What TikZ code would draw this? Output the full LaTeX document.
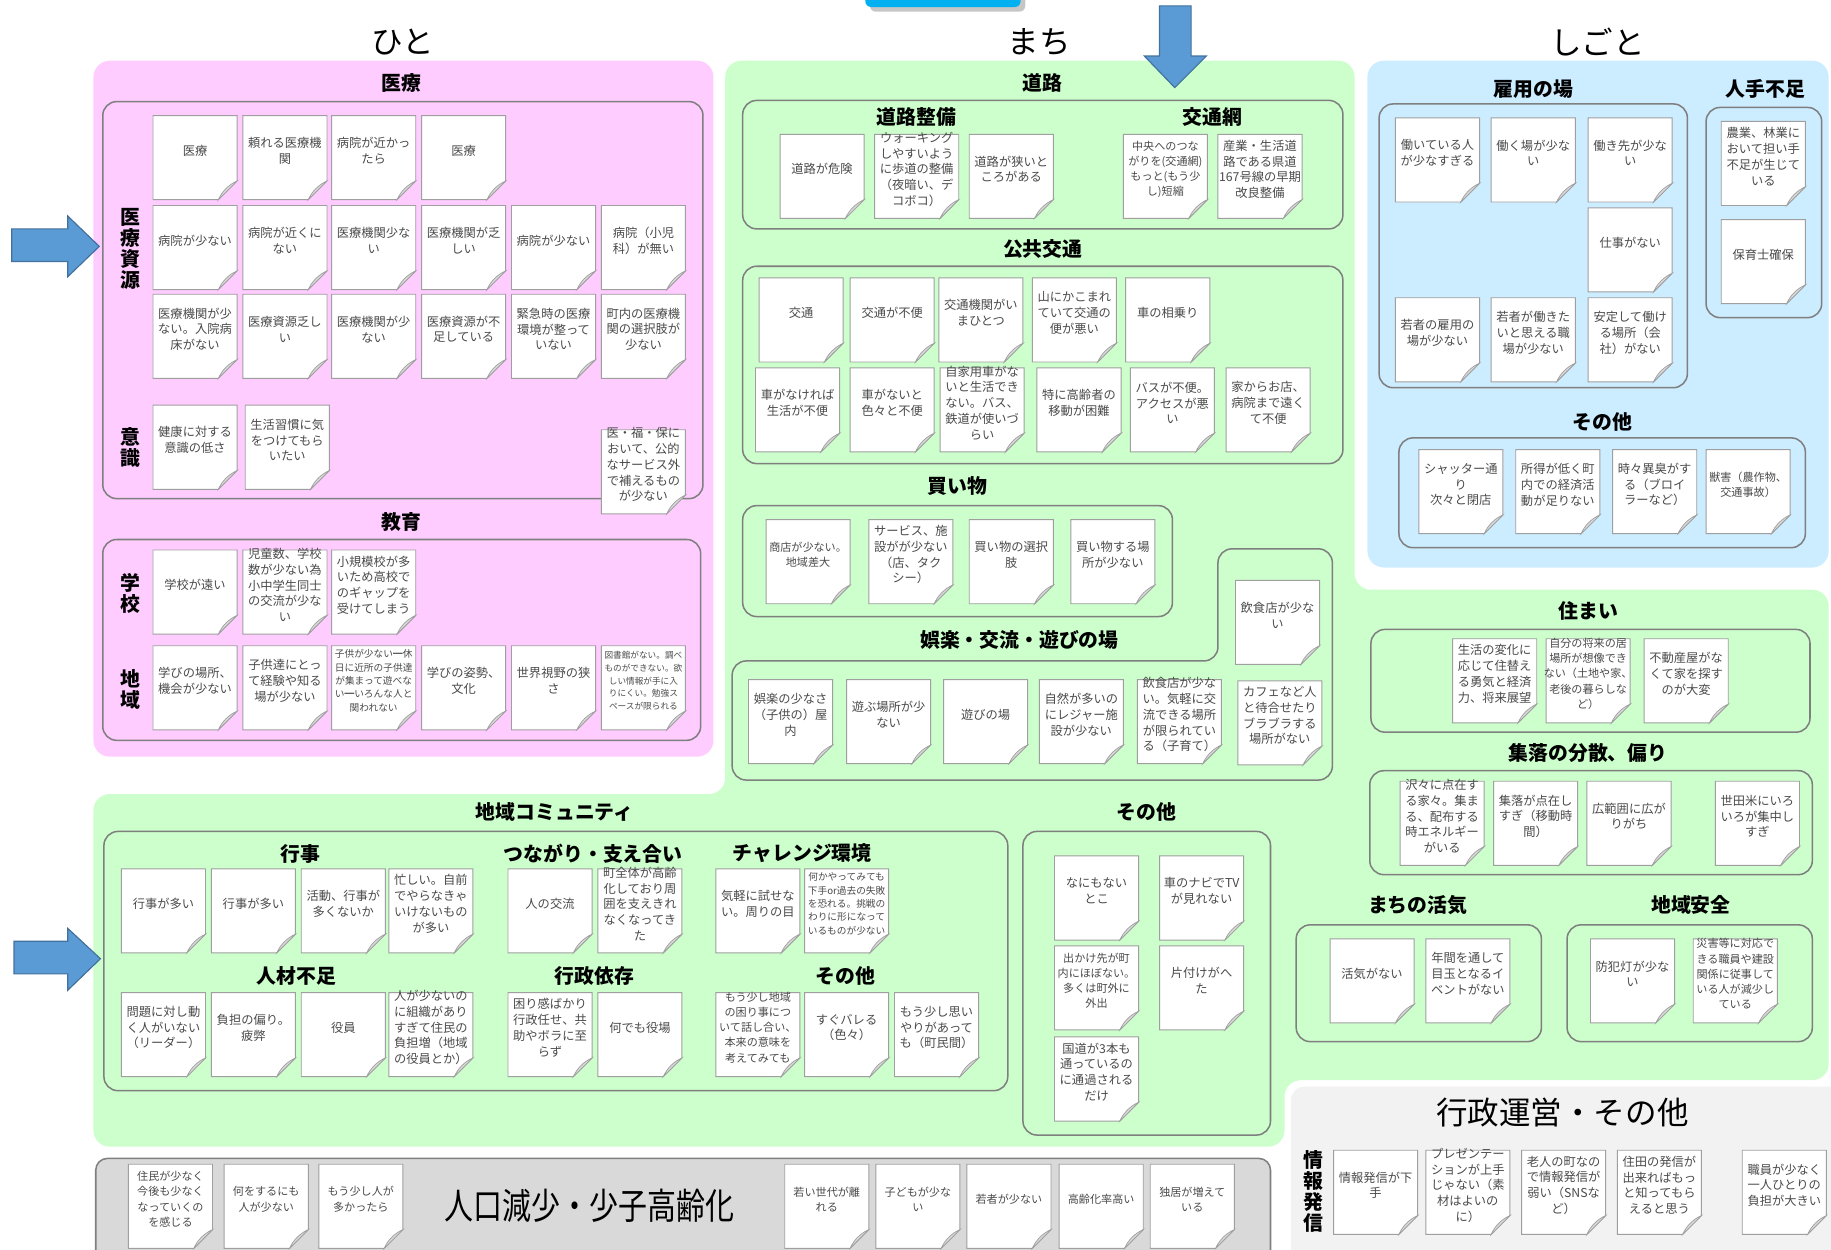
\documentclass[tikz,border=0pt]{standalone}
\usepackage{fontspec}
\setmainfont{Noto Sans CJK JP}
\XeTeXlinebreaklocale "ja"
\definecolor{pinkbg}{HTML}{FFCCFF}
\definecolor{greenbg}{HTML}{CCFFCC}
\definecolor{bluebg}{HTML}{CCECFF}
\definecolor{graybg}{HTML}{D9D9D9}
\definecolor{lightbg}{HTML}{F2F2F2}
\definecolor{boxline}{HTML}{7F7F7F}
\definecolor{arrowfill}{HTML}{5B9BD5}
\definecolor{arrowline}{HTML}{41719C}
\definecolor{notetextc}{HTML}{4A4A4A}
\definecolor{tabblue}{HTML}{00B0F0}
\tikzset{
  grp/.style={draw=boxline, line width=1.3pt, rounded corners=12pt},
  notepaper/.style={fill=white, draw=gray!75, line width=0.8pt},
  notefold/.style={fill=gray!30, draw=gray!75, line width=0.6pt},
  notetext/.style={font=\fontsize{10.5}{13.5}\selectfont, text=notetextc, align=center, inner sep=0pt},
  sm/.style={font=\fontsize{9.5}{13}\selectfont},
  xs/.style={font=\fontsize{8.3}{11.5}\selectfont},
  sectitle/.style={font=\bfseries\fontsize{17}{20}\selectfont, inner sep=0pt},
  bigtitle/.style={font=\fontsize{27}{30}\selectfont, inner sep=0pt},
  vlabel/.style={font=\bfseries\fontsize{17}{18}\selectfont, align=center, inner sep=0pt},
  bluearrow/.style={fill=arrowfill, draw=arrowline, line width=1pt, line join=miter},
}
\newcommand\stnote[5][]{%
  \begin{scope}[shift={(#3+36,#4+36)}]
    \filldraw[notepaper] (-36,-36) -- (36,-36) -- (36,20) -- (20,36) -- (-36,36) -- cycle;
    \filldraw[notefold] (36,20) .. controls (29,23) and (23,29) .. (20,36) -- cycle;
    \node[notetext,#1] (#2) at (0,-6) {#5};
  \end{scope}}
\begin{document}
\begin{tikzpicture}[x=1pt,y=-1pt]
\useasboundingbox (0,0) rectangle (1568,1070);
\clip (0,0) rectangle (1568,1070);
% ---------- backgrounds ----------
\fill[pinkbg, rounded corners=14pt] (80,52) rectangle (611,648);
\fill[greenbg, rounded corners=14pt] (621,52) -- (1160,52) -- (1160,505) -- (1566,505) -- (1566,925) -- (1100,925) -- (1100,982) -- (80,982) -- (80,680) -- (621,680) -- cycle;
\fill[bluebg, rounded corners=14pt] (1171,52) rectangle (1566,486);
\draw[white, line width=5pt, fill=lightbg, rounded corners=14pt] (1103,928) rectangle (1600,1100);
\draw[boxline, line width=1.3pt, fill=graybg, rounded corners=10pt] (82,992) rectangle (1088,1100);
% top tab
\fill[gray!45, rounded corners=5pt] (745,-20) rectangle (878,10);
\fill[tabblue, rounded corners=5pt] (741,-20) rectangle (874,6);
% arrows
\filldraw[bluearrow] (10,196) -- (58,196) -- (58,185) -- (85,211) -- (58,237) -- (58,224) -- (10,224) -- cycle;
\filldraw[bluearrow] (12,806) -- (58,806) -- (58,795) -- (86,821) -- (58,848) -- (58,834) -- (12,834) -- cycle;
\filldraw[bluearrow] (993,5) -- (1020,5) -- (1020,48) -- (1033,48) -- (1006,75) -- (980,48) -- (993,48) -- cycle;
% ---------- big titles ----------
\node[bigtitle] (hito) at (345,36) {ひと};
\node[bigtitle] (machi) at (890,36) {まち};
\node[bigtitle] (shigoto) at (1368,36) {しごと};
\node[bigtitle, font=\fontsize{31}{34}\selectfont, xscale=0.8] (jinko) at (505,1033) {人口減少・少子高齢化};
\node[bigtitle] (gyosei) at (1338,953) {行政運営・その他};
% ---------- group boxes ----------
\draw[grp] (88,87) rectangle (602,427);
\draw[grp] (88,462) rectangle (600,634);
\draw[grp] (636,86) rectangle (1150,196);
\draw[grp] (636,228) rectangle (1150,397);
\draw[grp] (636,433) rectangle (1004,528);
\draw[grp] (627,566) -- (1043,566) -- (1043,470) -- (1141,470) -- (1141,668) -- (627,668) -- cycle;
\draw[grp] (89,712) rectangle (863,934);
\draw[grp] (876,712) rectangle (1088,972);
\draw[grp] (1174,539) rectangle (1550,627);
\draw[grp] (1173,660) rectangle (1552,749);
\draw[grp] (1110,792) rectangle (1320,892);
\draw[grp] (1342,792) rectangle (1552,892);
\draw[grp] (1181,89) rectangle (1445,332);
\draw[grp] (1461,92) rectangle (1560,272);
\draw[grp] (1198,375) rectangle (1546,469);
% ---------- section titles ----------
\node[sectitle] (t-iryo) at (344,71) {医療};
\node[sectitle] (t-kyoiku) at (344,447) {教育};
\node[sectitle] (t-doro) at (893,71) {道路};
\node[sectitle] (t-doroseibi) at (785,100) {道路整備};
\node[sectitle] (t-kotsumo) at (1038,100) {交通網};
\node[sectitle] (t-kokyo) at (893,213) {公共交通};
\node[sectitle] (t-kaimono) at (820,416) {買い物};
\node[sectitle] (t-goraku) at (873,548) {娯楽・交流・遊びの場};
\node[sectitle] (t-koyo) at (1313,76) {雇用の場};
\node[sectitle] (t-hitode) at (1512,76) {人手不足};
\node[sectitle] (t-shigotosonota) at (1372,361) {その他};
\node[sectitle] (t-sumai) at (1360,523) {住まい};
\node[sectitle] (t-shuraku) at (1360,645) {集落の分散、偏り};
\node[sectitle] (t-kakki) at (1214,775) {まちの活気};
\node[sectitle] (t-anzen) at (1448,775) {地域安全};
\node[sectitle] (t-community) at (475,695) {地域コミュニティ};
\node[sectitle] (t-gyoji) at (257,731) {行事};
\node[sectitle] (t-tsunagari) at (508,731) {つながり・支え合い};
\node[sectitle] (t-challenge) at (687,731) {チャレンジ環境};
\node[sectitle] (t-jinzai) at (254,836) {人材不足};
\node[sectitle] (t-izon) at (509,836) {行政依存};
\node[sectitle] (t-comsonota) at (724,836) {その他};
\node[sectitle] (t-machisonota) at (982,695) {その他};
\node[vlabel] (v-shigen) at (112,213) {医\\療\\資\\源};
\node[vlabel] (v-ishiki) at (112,383) {意\\識};
\node[vlabel] (v-gakko) at (112,508) {学\\校};
\node[vlabel] (v-chiiki) at (112,590) {地\\域};
\node[vlabel] (v-joho) at (1125,1020) {情\\報\\発\\信};
% ---------- ひと notes ----------
\stnote{a1}{131}{99}{医療}
\stnote{a2}{208}{99}{頼れる医療機\\関}
\stnote{a3}{284}{99}{病院が近かっ\\たら}
\stnote{a4}{361}{99}{医療}
\stnote{b1}{131}{176}{病院が少ない}
\stnote{b2}{208}{176}{病院が近くに\\ない}
\stnote{b3}{284}{176}{医療機関少な\\い}
\stnote{b4}{361}{176}{医療機関が乏\\しい}
\stnote{b5}{438}{176}{病院が少ない}
\stnote{b6}{515}{176}{病院（小児\\科）が無い}
\stnote{c1}{131}{252}{医療機関が少\\ない。入院病\\床がない}
\stnote{c2}{208}{252}{医療資源乏し\\い}
\stnote{c3}{284}{252}{医療機関が少\\ない}
\stnote{c4}{361}{252}{医療資源が不\\足している}
\stnote{c5}{438}{252}{緊急時の医療\\環境が整って\\いない}
\stnote{c6}{515}{252}{町内の医療機\\関の選択肢が\\少ない}
\stnote{d1}{131}{347}{健康に対する\\意識の低さ}
\stnote{d2}{210}{347}{生活習慣に気\\をつけてもら\\いたい}
\stnote{d3}{515}{368}{医・福・保に\\おいて、公的\\なサービス外\\で補えるもの\\が少ない}
\stnote{e1}{131}{471}{学校が遠い}
\stnote{e2}{208}{471}{児童数、学校\\数が少ない為\\小中学生同士\\の交流が少な\\い}
\stnote{e3}{284}{471}{小規模校が多\\いため高校で\\のギャップを\\受けてしまう}
\stnote{f1}{131}{553}{学びの場所、\\機会が少ない}
\stnote{f2}{208}{553}{子供達にとっ\\て経験や知る\\場が少ない}
\stnote[xs]{f3}{284}{553}{子供が少ない━休\\日に近所の子供達\\が集まって遊べな\\い━いろんな人と\\関われない}
\stnote{f4}{361}{553}{学びの姿勢、\\文化}
\stnote{f5}{438}{553}{世界視野の狭\\さ}
\stnote[font=\fontsize{7.4}{11}\selectfont]{f6}{515}{553}{図書館がない。調べ\\ものができない。欲\\しい情報が手に入\\りにくい。勉強ス\\ペースが限られる}
% ---------- まち notes ----------
\stnote{g1}{668}{115}{道路が危険}
\stnote{g2}{749}{115}{ウォーキング\\しやすいよう\\に歩道の整備\\（夜暗い、デ\\コボコ）}
\stnote{g3}{830}{115}{道路が狭いと\\ころがある}
\stnote[sm]{g4}{962}{115}{中央へのつな\\がりを(交通網)\\もっと(もう少\\し)短縮}
\stnote{g5}{1043}{115}{産業・生活道\\路である県道\\167号線の早期\\改良整備}
\stnote{h1}{650}{238}{交通}
\stnote{h2}{728}{238}{交通が不便}
\stnote{h3}{804}{238}{交通機関がい\\まひとつ}
\stnote{h4}{884}{238}{山にかこまれ\\ていて交通の\\便が悪い}
\stnote{h5}{964}{238}{車の相乗り}
\stnote{i1}{647}{315}{車がなければ\\生活が不便}
\stnote{i2}{728}{315}{車がないと\\色々と不便}
\stnote{i3}{805}{315}{自家用車がな\\いと生活でき\\ない。バス、\\鉄道が使いづ\\らい}
\stnote{i4}{888}{315}{特に高齢者の\\移動が困難}
\stnote{i5}{968}{315}{バスが不便。\\アクセスが悪\\い}
\stnote{i6}{1050}{315}{家からお店、\\病院まで遠く\\て不便}
\stnote[sm]{j1}{656}{445}{商店が少ない。\\地域差大}
\stnote{j2}{744}{445}{サービス、施\\設がが少ない\\（店、タク\\シー）}
\stnote{j3}{830}{445}{買い物の選択\\肢}
\stnote{j4}{917}{445}{買い物する場\\所が少ない}
\stnote{k0}{1058}{497}{飲食店が少な\\い}
\stnote{k1}{641}{582}{娯楽の少なさ\\（子供の）屋\\内}
\stnote{k2}{725}{582}{遊ぶ場所が少\\ない}
\stnote{k3}{808}{582}{遊びの場}
\stnote{k4}{890}{582}{自然が多いの\\にレジャー施\\設が少ない}
\stnote{k5}{974}{582}{飲食店が少な\\い。気軽に交\\流できる場所\\が限られてい\\る（子育て）}
\stnote{k6}{1060}{583}{カフェなど人\\と待合せたり\\ブラブラする\\場所がない}
% ---------- しごと notes ----------
\stnote{l1}{1195}{101}{働いている人\\が少なすぎる}
\stnote{l2}{1277}{101}{働く場が少な\\い}
\stnote{l3}{1360}{101}{働き先が少な\\い}
\stnote{l4}{1360}{178}{仕事がない}
\stnote{l5}{1195}{255}{若者の雇用の\\場が少ない}
\stnote{l6}{1277}{255}{若者が働きた\\いと思える職\\場が少ない}
\stnote{l7}{1360}{255}{安定して働け\\る場所（会\\社）がない}
\stnote{m1}{1474}{104}{農業、林業に\\おいて担い手\\不足が生じて\\いる}
\stnote{m2}{1474}{188}{保育士確保}
\stnote{n1}{1215}{385}{シャッター通\\り\\次々と閉店}
\stnote{n2}{1298}{385}{所得が低く町\\内での経済活\\動が足りない}
\stnote{n3}{1381}{385}{時々異臭がす\\る（ブロイ\\ラーなど）}
\stnote[sm]{n4}{1461}{385}{獣害（農作物、\\交通事故）}
% ---------- 住まい etc ----------
\stnote{o1}{1244}{547}{生活の変化に\\応じて住替え\\る勇気と経済\\力、将来展望}
\stnote[sm]{o2}{1324}{547}{自分の将来の居\\場所が想像でき\\ない（土地や家、\\老後の暮らしな\\ど）}
\stnote{o3}{1408}{547}{不動産屋がな\\くて家を探す\\のが大変}
\stnote{p1}{1199}{669}{沢々に点在す\\る家々。集ま\\る、配布する\\時エネルギー\\がいる}
\stnote{p2}{1279}{669}{集落が点在し\\すぎ（移動時\\間）}
\stnote{p3}{1359}{669}{広範囲に広が\\りがち}
\stnote{p4}{1469}{669}{世田米にいろ\\いろが集中し\\すぎ}
\stnote{q1}{1139}{804}{活気がない}
\stnote{q2}{1221}{804}{年間を通して\\目玉となるイ\\ベントがない}
\stnote{q3}{1362}{804}{防犯灯が少な\\い}
\stnote[sm]{q4}{1450}{804}{災害等に対応で\\きる職員や建設\\関係に従事して\\いる人が減少し\\ている}
% ---------- 地域コミュニティ ----------
\stnote{r1}{104}{744}{行事が多い}
\stnote{r2}{181}{744}{行事が多い}
\stnote{r3}{258}{744}{活動、行事が\\多くないか}
\stnote{r4}{333}{744}{忙しい。自前\\でやらなきゃ\\いけないもの\\が多い}
\stnote{r5}{435}{744}{人の交流}
\stnote{r6}{512}{744}{町全体が高齢\\化しており周\\囲を支えきれ\\なくなってき\\た}
\stnote{r7}{613}{744}{気軽に試せな\\い。周りの目}
\stnote[xs]{r8}{689}{744}{何かやってみても\\下手or過去の失敗\\を恐れる。挑戦の\\わりに形になって\\いるものが少ない}
\stnote{s1}{104}{850}{問題に対し動\\く人がいない\\（リーダー）}
\stnote{s2}{181}{850}{負担の偏り。\\疲弊}
\stnote{s3}{258}{850}{役員}
\stnote{s4}{333}{850}{人が少ないの\\に組織があり\\すぎて住民の\\負担増（地域\\の役員とか）}
\stnote{s5}{435}{850}{困り感ばかり\\行政任せ、共\\助やボラに至\\らず}
\stnote{s6}{512}{850}{何でも役場}
\stnote[sm]{s7}{613}{850}{もう少し地域\\の困り事につ\\いて話し合い、\\本来の意味を\\考えてみても}
\stnote{s8}{689}{850}{すぐバレる\\（色々）}
\stnote{s9}{766}{850}{もう少し思い\\やりがあって\\も（町民間）}
% ---------- まち その他 ----------
\stnote{u1}{903}{733}{なにもない\\とこ}
\stnote{u2}{993}{733}{車のナビでTV\\が見れない}
\stnote[sm]{u3}{903}{810}{出かけ先が町\\内にほぼない。\\多くは町外に\\外出}
\stnote{u4}{993}{810}{片付けがへ\\た}
\stnote{u5}{903}{888}{国道が3本も\\通っているの\\に通過される\\だけ}
% ---------- 人口減少 ----------
\stnote[sm]{w1}{110}{997}{住民が少なく\\今後も少なく\\なっていくの\\を感じる}
\stnote[sm]{w2}{192}{997}{何をするにも\\人が少ない}
\stnote[sm]{w3}{273}{997}{もう少し人が\\多かったら}
\stnote[sm]{w4}{672}{997}{若い世代が離\\れる}
\stnote[sm]{w5}{750}{997}{子どもが少な\\い}
\stnote[sm]{w6}{828}{997}{若者が少ない}
\stnote[sm]{w7}{907}{997}{高齢化率高い}
\stnote[sm]{w8}{985}{997}{独居が増えて\\いる}
% ---------- 行政運営 ----------
\stnote{x1}{1142}{985}{情報発信が下\\手}
\stnote{x2}{1221}{985}{プレゼンテー\\ションが上手\\じゃない（素\\材はよいの\\に）}
\stnote{x3}{1303}{985}{老人の町なの\\で情報発信が\\弱い（SNSな\\ど）}
\stnote{x4}{1385}{985}{住田の発信が\\出来ればもっ\\と知ってもら\\えると思う}
\stnote{x5}{1492}{985}{職員が少なく\\一人ひとりの\\負担が大きい}
\end{tikzpicture}
\end{document}
